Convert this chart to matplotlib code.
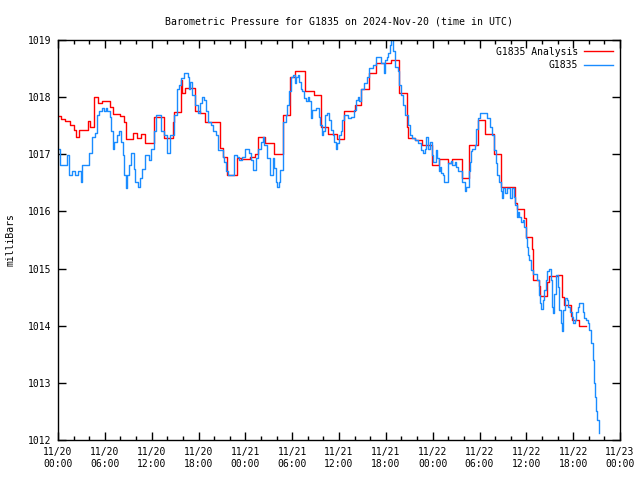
import numpy as np
import pandas as pd
import matplotlib
matplotlib.use("Agg")
import matplotlib.pyplot as plt
import matplotlib.dates as mdates

plt.rcParams['font.family'] = ['DejaVu Sans Mono']
plt.rcParams['font.size'] = 7

start = pd.Timestamp('2024-11-20 00:00')

# analysis series (hours after start, mb), step changes
analysis_h = [0.0, 0.4, 0.9, 1.5, 2.0, 2.3, 2.7, 3.8, 4.1, 4.6, 5.1, 5.6, 6.6, 7.1, 8.0,
              8.5, 8.7, 9.6, 10.1, 10.6, 11.2, 12.3, 13.6, 14.7, 14.9, 15.7, 15.9, 16.3,
              17.5, 18.2, 18.8, 20.7, 21.2, 21.7, 22.9, 23.5, 24.6, 25.2, 25.6, 26.5, 27.7,
              28.8, 29.7, 30.4, 31.7, 32.8, 33.7, 34.6, 35.8, 36.7, 38.0, 38.8, 39.8, 40.7,
              42.6, 43.7, 44.7, 44.9, 45.7, 46.6, 47.9, 48.8, 50.0, 50.5, 51.8, 52.7, 53.8,
              54.7, 55.8, 56.7, 58.6, 58.8, 59.7, 60.0, 60.7, 60.85, 61.6, 61.8, 62.7, 62.9,
              64.0, 64.6, 64.8, 65.7, 65.9, 66.7, 67.7]
analysis_p = [1017.67, 1017.62, 1017.58, 1017.51, 1017.42, 1017.31, 1017.42, 1017.59, 1017.48,
              1018.01, 1017.90, 1017.93, 1017.83, 1017.70, 1017.67, 1017.57, 1017.27, 1017.38,
              1017.28, 1017.35, 1017.19, 1017.65, 1017.28, 1017.57, 1017.74, 1018.30, 1018.07,
              1018.16, 1017.75, 1017.72, 1017.57, 1017.11, 1016.96, 1016.64, 1016.94, 1016.91,
              1016.96, 1017.00, 1017.31, 1017.19, 1017.00, 1017.69, 1018.36, 1018.46, 1018.10,
              1018.03, 1017.48, 1017.35, 1017.27, 1017.75, 1017.86, 1018.15, 1018.43, 1018.59,
              1018.65, 1018.07, 1017.48, 1017.28, 1017.25, 1017.16, 1016.81, 1016.91, 1016.84,
              1016.91, 1016.58, 1017.16, 1017.60, 1017.35, 1017.00, 1016.43, 1016.15, 1016.05,
              1015.88, 1015.55, 1015.35, 1014.80, 1014.69, 1014.52, 1014.77, 1014.87, 1014.89,
              1014.51, 1014.37, 1014.17, 1014.10, 1014.00, 1014.00]

# station observations (hours after start, mb)
station_h = [0.0, 0.2, 1.1, 1.4, 1.8, 2.2, 2.5, 2.9, 3.1, 4.0, 4.4, 4.7, 5.0, 5.3, 5.7, 5.9,
             6.1, 6.3, 6.6, 6.8, 7.0, 7.2, 7.6, 7.8, 8.1, 8.3, 8.5, 8.7, 8.9, 9.1, 9.4, 9.7,
             9.9, 10.2, 10.5, 10.8, 11.2, 11.6, 11.9, 12.3, 12.5, 13.2, 13.6, 14.0, 14.4, 14.8,
             15.2, 15.5, 15.7, 16.1, 16.6, 16.8, 16.9, 17.2, 17.5, 17.9, 18.2, 18.5, 18.7,
             19.0, 19.2, 19.6, 19.9, 20.2, 20.5, 21.1, 21.3, 21.5, 21.8, 22.6, 22.9, 23.2,
             23.6, 24.0, 24.5, 24.7, 25.0, 25.4, 25.6, 26.0, 26.2, 26.4, 26.8, 27.2, 27.5,
             27.7, 27.9, 28.1, 28.3, 28.5, 28.8, 29.2, 29.4, 29.6, 29.8, 30.1, 30.3, 30.5,
             30.7, 30.9, 31.1, 31.3, 31.5, 31.8, 32.0, 32.2, 32.4, 32.6, 33.1, 33.4, 33.6,
             33.8, 34.0, 34.2, 34.5, 34.7, 35.0, 35.2, 35.4, 35.6, 35.8, 36.0, 36.2, 36.4,
             36.7, 37.1, 37.5, 37.9, 38.2, 38.4, 38.6, 38.8, 39.2, 39.6, 39.9, 40.3, 40.7,
             41.4, 41.75, 41.9, 42.1, 42.3, 42.5, 42.7, 42.9, 43.2, 43.5, 43.7, 43.9, 44.2,
             44.5, 44.8, 45.1, 45.3, 45.7, 46.1, 46.5, 46.8, 47.0, 47.2, 47.4, 47.7, 47.9,
             48.1, 48.4, 48.6, 48.75, 48.9, 49.1, 49.3, 49.5, 50.0, 50.3, 50.5, 50.8, 51.0,
             51.3, 51.8, 52.1, 52.3, 52.6, 52.75, 52.85, 53.1, 53.4, 53.6, 53.8, 54.1, 54.9,
             55.3, 55.6, 55.9, 56.1, 56.3, 56.5, 56.7, 56.85, 57.0, 57.3, 57.5, 57.9, 58.2,
             58.4, 58.6, 58.75, 58.9, 59.1, 59.3, 59.6, 59.75, 59.9, 60.05, 60.2, 60.4, 60.6,
             60.8, 61.4, 61.6, 61.75, 61.85, 62.1, 62.3, 62.5, 62.7, 62.9, 63.1, 63.3, 63.45,
             63.6, 63.8, 64.0, 64.2, 64.4, 64.6, 64.75, 64.9, 65.2, 65.4, 65.6, 65.8, 65.95,
             66.2, 66.4, 66.6, 66.8, 67.2, 67.4, 67.7, 67.9, 68.05, 68.3, 68.5, 68.65, 68.75,
             68.9, 69.1, 69.3]
station_p = [1017.10, 1016.81, 1016.99, 1016.64, 1016.70, 1016.64, 1016.70, 1016.52, 1016.81,
             1017.02, 1017.31, 1017.37, 1017.69, 1017.75, 1017.81, 1017.75, 1017.81, 1017.75,
             1017.66, 1017.40, 1017.10, 1017.22, 1017.34, 1017.40, 1017.22, 1016.99, 1016.64,
             1016.41, 1016.64, 1016.81, 1017.02, 1016.75, 1016.52, 1016.42, 1016.58, 1016.75,
             1016.99, 1016.90, 1017.10, 1017.40, 1017.69, 1017.40, 1017.34, 1017.02, 1017.34,
             1017.69, 1018.15, 1018.21, 1018.33, 1018.42, 1018.36, 1018.15, 1018.27, 1018.04,
             1017.86, 1017.72, 1017.90, 1018.01, 1017.95, 1017.75, 1017.57, 1017.51, 1017.40,
             1017.34, 1017.08, 1016.96, 1016.87, 1016.70, 1016.64, 1016.99, 1016.96, 1016.90,
             1016.96, 1017.10, 1017.02, 1016.90, 1016.73, 1016.93, 1017.10, 1017.22, 1017.31,
             1017.16, 1016.93, 1016.64, 1016.93, 1016.76, 1016.52, 1016.42, 1016.52, 1016.73,
             1017.57, 1017.69, 1017.86, 1018.10, 1018.36, 1018.39, 1018.25, 1018.36, 1018.39,
             1018.27, 1018.15, 1018.10, 1017.98, 1017.93, 1018.01, 1017.93, 1017.63, 1017.77,
             1017.81, 1017.66, 1017.51, 1017.34, 1017.40, 1017.69, 1017.72, 1017.60, 1017.42,
             1017.34, 1017.22, 1017.10, 1017.19, 1017.34, 1017.40, 1017.60, 1017.69, 1017.63,
             1017.66, 1017.77, 1017.95, 1018.01, 1017.93, 1018.15, 1018.25, 1018.36, 1018.51,
             1018.56, 1018.71, 1018.59, 1018.43, 1018.65, 1018.71, 1018.77, 1018.91, 1019.02,
             1018.80, 1018.53, 1018.45, 1018.21, 1018.04, 1017.86, 1017.69, 1017.51, 1017.34,
             1017.28, 1017.25, 1017.19, 1017.08, 1017.02, 1017.10, 1017.31, 1017.10, 1017.22,
             1016.99, 1016.87, 1017.08, 1016.93, 1016.70, 1016.78, 1016.67, 1016.64, 1016.52,
             1016.84, 1016.88, 1016.81, 1016.87, 1016.78, 1016.70, 1016.52, 1016.35, 1016.43,
             1016.70, 1016.87, 1017.05, 1017.09, 1017.17, 1017.45, 1017.63, 1017.72, 1017.63,
             1017.48, 1017.34, 1017.08, 1016.84, 1016.64, 1016.52, 1016.35, 1016.23, 1016.41,
             1016.33, 1016.41, 1016.23, 1016.41, 1016.26, 1016.11, 1015.91, 1015.99, 1015.91,
             1015.82, 1015.85, 1015.73, 1015.53, 1015.38, 1015.24, 1015.15, 1014.98, 1014.91,
             1014.80, 1014.54, 1014.39, 1014.30, 1014.45, 1014.63, 1014.80, 1014.95, 1015.00,
             1014.80, 1014.33, 1014.22, 1014.56, 1014.88, 1014.68, 1014.27, 1014.04, 1013.90,
             1014.27, 1014.48, 1014.45, 1014.33, 1014.24, 1014.16, 1014.05, 1014.10, 1014.24,
             1014.33, 1014.39, 1014.24, 1014.13, 1014.10, 1014.04, 1013.93, 1013.69, 1013.40,
             1012.99, 1012.76, 1012.50, 1012.35, 1012.12]

t_analysis = start + pd.to_timedelta(analysis_h, unit='h')
t_station = start + pd.to_timedelta(station_h, unit='h')

fig = plt.figure(figsize=(6.4, 4.8), dpi=100)
ax = fig.add_axes([58/640, 40/480, 562/640, 400/480])

ax.plot(t_analysis, analysis_p, color='#ff0000', lw=1.0, drawstyle='steps-post',
        label='G1835 Analysis')
ax.plot(t_station, station_p, color='#1a8cff', lw=1.0, drawstyle='steps-post',
        label='G1835')

ax.set_xlim(start, start + pd.Timedelta(hours=72))
ax.set_ylim(1012, 1019)
ax.set_yticks(np.arange(1012, 1020, 1))

ax.xaxis.set_major_locator(mdates.HourLocator(byhour=[0, 6, 12, 18]))
ax.xaxis.set_minor_locator(mdates.HourLocator(byhour=range(0, 24, 2)))
ax.xaxis.set_major_formatter(mdates.DateFormatter('%m/%d\n%H:%M'))

ax.tick_params(which='both', direction='in', top=True, right=True, width=1)
ax.tick_params(which='major', length=6, pad=5)
ax.tick_params(which='minor', length=3)
for s in ax.spines.values():
    s.set_linewidth(1.0)

ax.set_ylabel('milliBars')
ax.yaxis.set_label_coords(-0.076, 0.5)
ax.set_title('Barometric Pressure for G1835 on 2024-Nov-20 (time in UTC)',
             fontsize=7.1, pad=11)

ax.legend(loc='upper right', frameon=False, markerfirst=False, handlelength=3.0,
          borderaxespad=0.3, labelspacing=0.35, handletextpad=0.6)

fig.savefig('out.png', dpi=100)
